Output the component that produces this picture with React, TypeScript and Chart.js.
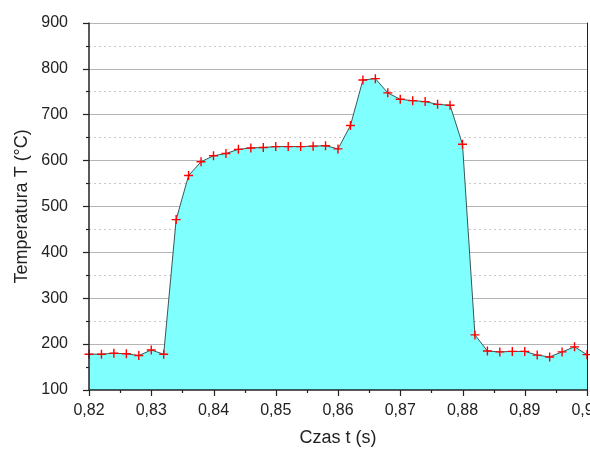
import React, { useEffect, useRef } from "react";
import { Chart, registerables } from "chart.js";

Chart.register(...registerables);

const times: number[] = [
  0.82, 0.822, 0.824, 0.826, 0.828, 0.83, 0.832, 0.834, 0.836, 0.838,
  0.84, 0.842, 0.844, 0.846, 0.848, 0.85, 0.852, 0.854, 0.856, 0.858,
  0.86, 0.862, 0.864, 0.866, 0.868, 0.87, 0.872, 0.874, 0.876, 0.878,
  0.88, 0.882, 0.884, 0.886, 0.888, 0.89, 0.892, 0.894, 0.896, 0.898, 0.9,
];

const temperatures: number[] = [
  178, 178, 180, 179, 175, 187, 178, 471, 567, 597,
  610, 615, 624, 627, 628, 630, 630, 630, 631, 632,
  625, 676, 775, 778, 747, 733, 730, 728, 722, 720,
  635, 220, 185, 183, 184, 184, 176, 172, 183, 194, 177,
];

const xTitle = "Czas t (s)";
const yTitle = "Temperatura T (°C)";
const yMajorTicks: number[] = [100, 200, 300, 400, 500, 600, 700, 800, 900];
const xMajorTicks: number[] = [0.82, 0.83, 0.84, 0.85, 0.86, 0.87, 0.88, 0.89, 0.9];

const FONT = "'Liberation Sans', Arial, sans-serif";

const framePlugin = {
  id: "originFrame",
  beforeDatasetsDraw(chart: any) {
    const { ctx, chartArea } = chart;
    const y = chart.scales.y;
    ctx.save();
    ctx.lineWidth = 1;
    for (let i = 0; i < yMajorTicks.length - 1; i++) {
      const mid = (yMajorTicks[i] + yMajorTicks[i + 1]) / 2;
      const py = Math.round(y.getPixelForValue(mid)) + 0.5;
      ctx.strokeStyle = "#c8c8c8";
      ctx.setLineDash([2, 3]);
      ctx.beginPath();
      ctx.moveTo(chartArea.left, py);
      ctx.lineTo(chartArea.right, py);
      ctx.stroke();
    }
    ctx.setLineDash([]);
    for (let i = 1; i < yMajorTicks.length; i++) {
      const py = Math.round(y.getPixelForValue(yMajorTicks[i])) + 0.5;
      ctx.strokeStyle = "#b4b4b4";
      ctx.beginPath();
      ctx.moveTo(chartArea.left, py);
      ctx.lineTo(chartArea.right, py);
      ctx.stroke();
    }
    ctx.restore();
  },
  afterDatasetsDraw(chart: any) {
    const { ctx, chartArea } = chart;
    const x = chart.scales.x;
    const y = chart.scales.y;
    ctx.save();
    ctx.strokeStyle = "#222";
    ctx.lineWidth = 1;
    // right frame
    ctx.beginPath();
    ctx.moveTo(Math.round(chartArea.right) + 0.5, chartArea.top);
    ctx.lineTo(Math.round(chartArea.right) + 0.5, chartArea.bottom);
    ctx.stroke();
    // left axis
    ctx.lineWidth = 1.5;
    const lx = Math.round(chartArea.left);
    ctx.beginPath();
    ctx.moveTo(lx, chartArea.top);
    ctx.lineTo(lx, chartArea.bottom + 1);
    ctx.stroke();
    // bottom axis
    const by = Math.round(chartArea.bottom);
    ctx.beginPath();
    ctx.moveTo(chartArea.left, by);
    ctx.lineTo(chartArea.right + 1, by);
    ctx.stroke();
    ctx.lineWidth = 1.2;
    // y ticks
    for (let i = 0; i < yMajorTicks.length; i++) {
      const py = Math.round(y.getPixelForValue(yMajorTicks[i])) + 0.5;
      ctx.beginPath();
      ctx.moveTo(lx - 6, py);
      ctx.lineTo(lx, py);
      ctx.stroke();
      if (i < yMajorTicks.length - 1) {
        const pm = Math.round(y.getPixelForValue((yMajorTicks[i] + yMajorTicks[i + 1]) / 2)) + 0.5;
        ctx.beginPath();
        ctx.moveTo(lx - 3, pm);
        ctx.lineTo(lx, pm);
        ctx.stroke();
      }
    }
    // x ticks
    for (let i = 0; i < xMajorTicks.length; i++) {
      const px = Math.round(x.getPixelForValue(xMajorTicks[i])) + 0.5;
      ctx.beginPath();
      ctx.moveTo(px, by);
      ctx.lineTo(px, by + 6);
      ctx.stroke();
      if (i < xMajorTicks.length - 1) {
        const pm = Math.round(x.getPixelForValue((xMajorTicks[i] + xMajorTicks[i + 1]) / 2)) + 0.5;
        ctx.beginPath();
        ctx.moveTo(pm, by);
        ctx.lineTo(pm, by + 3);
        ctx.stroke();
      }
    }
    ctx.restore();
  },
};

export default function App() {
  const canvasRef = useRef<HTMLCanvasElement | null>(null);

  useEffect(() => {
    document.body.style.margin = "0";
    const canvas = canvasRef.current;
    if (!canvas) return;
    const chart = new Chart(canvas, {
      type: "line",
      data: {
        datasets: [
          {
            data: times.map((t, i) => ({ x: t, y: temperatures[i] })),
            borderColor: "#3a5656",
            borderWidth: 1,
            backgroundColor: "#80ffff",
            fill: "start",
            tension: 0,
            pointStyle: "cross",
            pointRadius: 4.5,
            pointBorderColor: "#ff0000",
            pointBorderWidth: 1.4,
            pointBackgroundColor: "#ff0000",
            clip: false as any,
          },
        ],
      },
      options: {
        animation: false,
        responsive: false,
        layout: { padding: { left: 0, right: 33, top: 22, bottom: 0 } },
        plugins: { legend: { display: false }, tooltip: { enabled: false } },
        scales: {
          x: {
            type: "linear",
            min: 0.82,
            max: 0.9,
            afterBuildTicks: (scale: any) => {
              scale.ticks = xMajorTicks.map((v) => ({ value: v }));
            },
            afterFit: (scale: any) => {
              scale.height = 59;
            },
            ticks: {
              maxRotation: 0,
              autoSkip: false,
              padding: 3,
              color: "#222",
              font: { family: FONT, size: 16 },
              callback: (v: any) => Number(v).toFixed(2).replace(".", ","),
            },
            grid: { display: true, drawOnChartArea: false, drawTicks: true, tickLength: 8, color: "rgba(0,0,0,0)" },
            border: { display: false },
            title: {
              display: true,
              text: xTitle,
              color: "#222",
              font: { family: FONT, size: 18 },
              padding: { top: 0, bottom: 0 },
            },
          },
          y: {
            type: "linear",
            min: 100,
            max: 900,
            afterBuildTicks: (scale: any) => {
              scale.ticks = yMajorTicks.map((v) => ({ value: v }));
            },
            afterFit: (scale: any) => {
              scale.width = 89;
            },
            ticks: {
              padding: 13,
              color: "#222",
              font: { family: FONT, size: 16 },
            },
            grid: { display: true, drawOnChartArea: false, drawTicks: true, tickLength: 8, color: "rgba(0,0,0,0)" },
            border: { display: false },
            title: {
              display: true,
              text: yTitle,
              color: "#222",
              font: { family: FONT, size: 18 },
              padding: { top: 11, bottom: 0 },
            },
          },
        },
      },
      plugins: [framePlugin],
    });
    return () => chart.destroy();
  }, []);

  return (
    <div style={{ width: 590, height: 449, overflow: "hidden", background: "#fff" }}>
      <canvas ref={canvasRef} width={620} height={449} style={{ display: "block" }} />
    </div>
  );
}
